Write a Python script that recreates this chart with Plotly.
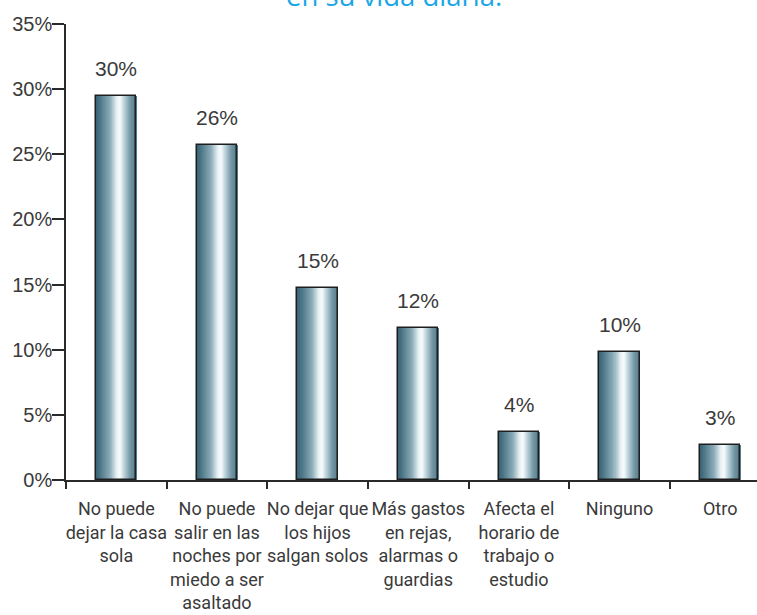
import plotly.graph_objects as go

categories = [
    "No puede<br>dejar la casa<br>sola",
    "No puede<br>salir en las<br>noches por<br>miedo a ser<br>asaltado",
    "No dejar que<br>los hijos<br>salgan solos",
    "Más gastos<br>en rejas,<br>alarmas o<br>guardias",
    "Afecta el<br>horario de<br>trabajo o<br>estudio",
    "Ninguno",
    "Otro",
]
values = [29.5, 25.7, 14.7, 11.7, 3.7, 9.8, 2.7]
title_text = "en su vida diaria."

BAR_W = 0.4
N = 40
stops = [
    (0.00, (55, 98, 115)),
    (0.12, (80, 122, 138)),
    (0.35, (140, 172, 184)),
    (0.52, (232, 242, 245)),
    (0.60, (248, 252, 253)),
    (0.70, (190, 212, 220)),
    (0.85, (118, 152, 166)),
    (1.00, (82, 122, 138)),
]

def grad(t):
    for (t0, c0), (t1, c1) in zip(stops[:-1], stops[1:]):
        if t0 <= t <= t1:
            f = (t - t0) / (t1 - t0) if t1 > t0 else 0
            return "rgb(%d,%d,%d)" % tuple(round(a + (b - a) * f) for a, b in zip(c0, c1))
    return "rgb(%d,%d,%d)" % stops[-1][1]

fig = go.Figure()
step = BAR_W / N
for k in range(N):
    off = -BAR_W / 2 + k * step
    fig.add_trace(go.Bar(
        x=categories, y=values,
        offset=off, width=BAR_W / 2 - off,
        marker=dict(color=grad((k + 0.5) / N), line=dict(width=0)),
        hoverinfo="skip", showlegend=False,
    ))
fig.add_trace(go.Bar(
    x=categories, y=values, offset=-BAR_W / 2, width=BAR_W,
    marker=dict(color="rgba(0,0,0,0)", line=dict(color="#1e1e1e", width=1.5)),
    hoverinfo="skip", showlegend=False,
))

for c, v in zip(categories, values):
    fig.add_annotation(x=c, y=v, text=f"{round(v)}%", showarrow=False,
                       yanchor="bottom", yshift=14,
                       font=dict(family="Liberation Sans, Arial, sans-serif", size=21, color="#3a3a3a"))

fig.add_annotation(xref="paper", yref="paper", x=0.474, y=1.0165, yanchor="bottom",
                   text=title_text, showarrow=False,
                   font=dict(family="Open Sans, sans-serif", size=27.5, color="#1ba6e6"))

fig.update_layout(
    width=757, height=615, autosize=False,
    margin=dict(l=66, r=0, t=24, b=135),
    paper_bgcolor="white", plot_bgcolor="white",
    barmode="overlay", bargap=0, hovermode=False,
)
fig.update_xaxes(
    type="category", range=[-0.5, 6.366],
    showline=True, linecolor="#2a2a2a", linewidth=1.5,
    ticks="outside", tickson="boundaries", ticklen=7, tickwidth=1.5, tickcolor="#2a2a2a",
    tickfont=dict(family="Roboto, Liberation Sans, sans-serif", size=18, color="#3a3a3a"),
    ticklabelstandoff=12,
    showgrid=False, zeroline=False, tickangle=0,
)
fig.update_yaxes(
    range=[0, 35], dtick=5, ticksuffix="%",
    showline=True, linecolor="#2a2a2a", linewidth=1.5,
    ticks="outside", ticklen=12, tickwidth=1.5, tickcolor="#2a2a2a",
    tickfont=dict(family="Liberation Sans, Arial, sans-serif", size=20, color="#3a3a3a"),
    ticklabelstandoff=-4,
    showgrid=False, zeroline=False,
)

fig.write_html("out.html", config={"displayModeBar": False},
               post_script="document.body.style.margin='0';")
